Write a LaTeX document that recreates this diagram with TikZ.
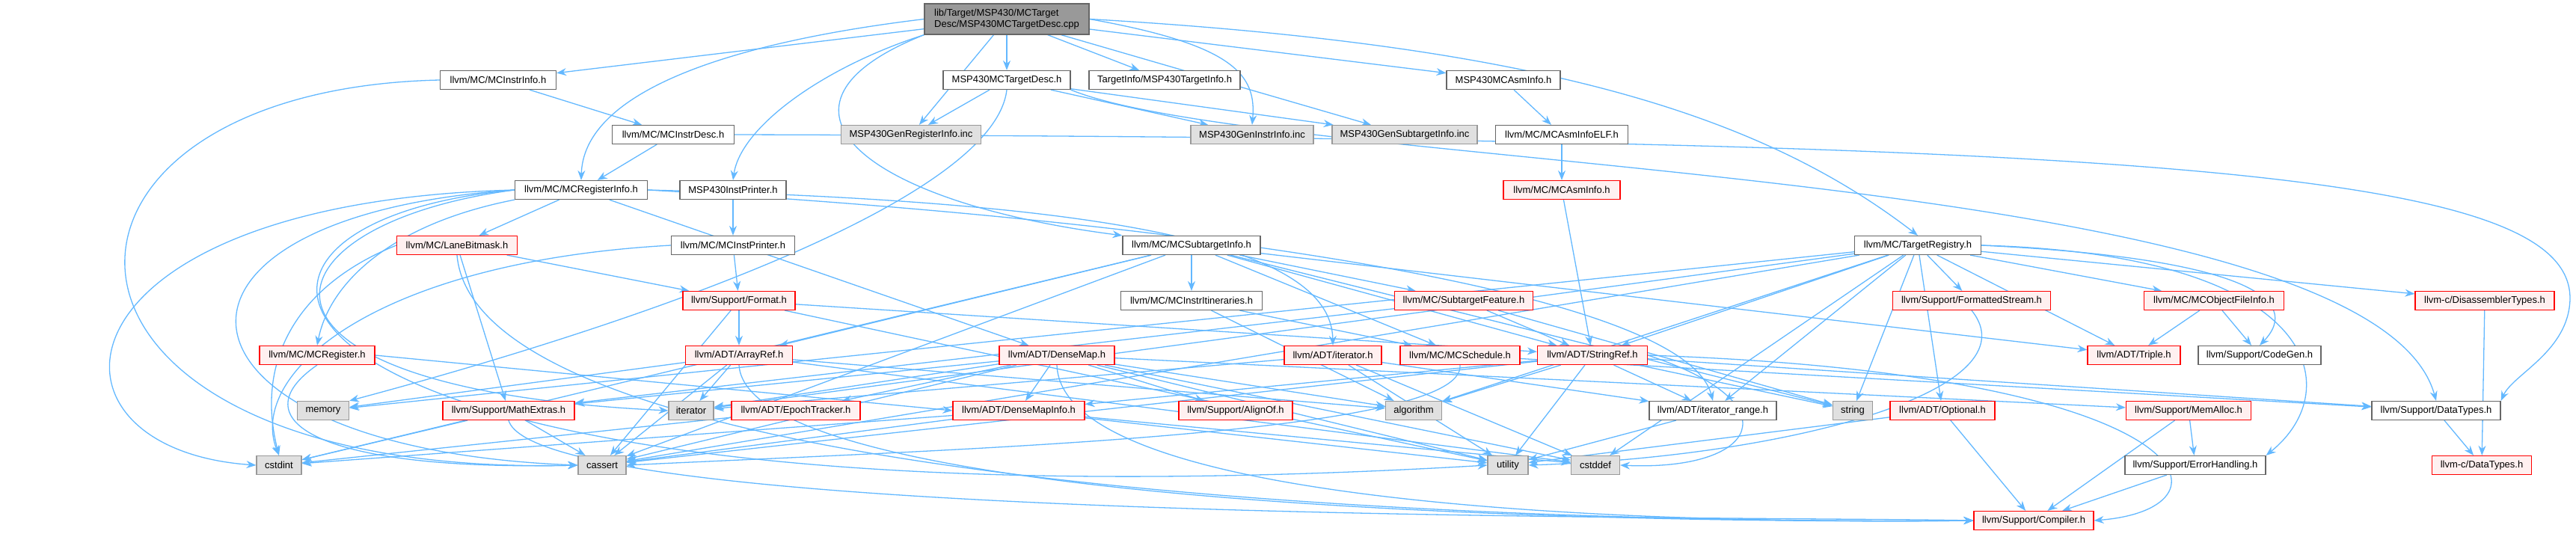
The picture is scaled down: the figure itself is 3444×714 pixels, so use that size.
\documentclass[tikz,border=0pt]{standalone}
\usepackage{fontspec}
\setmainfont{Liberation Sans}
\definecolor{depblue}{RGB}{99,184,255}
\definecolor{dgrey}{RGB}{102,102,102}
\definecolor{rootgrey}{RGB}{153,153,153}
\definecolor{sysfill}{RGB}{224,224,224}
\definecolor{sysline}{RGB}{153,153,153}
\definecolor{redfill}{RGB}{255,240,240}
\definecolor{redline}{RGB}{255,0,0}
\usepackage{tikz}
\usetikzlibrary{arrows.meta,positioning,backgrounds}

\begin{document}
\begin{tikzpicture}[x=1pt,y=-1pt,
  hbox/.style={draw=dgrey,fill=white,line width=1.2pt,minimum height=25pt,inner xsep=6pt,inner ysep=2pt,font=\fontsize{13}{15}\selectfont},
  hred/.style={hbox,draw=redline,fill=redfill},
  hsys/.style={hbox,draw=sysline,fill=sysfill},
  hroot/.style={hbox,fill=rootgrey,minimum height=41pt,align=left},
  dep/.style={draw=depblue,line width=1.3pt,-{Stealth[length=13pt,width=10pt]}}]
  \useasboundingbox (0,0) rectangle (3444,714);
  \node[hroot,minimum width=220pt] (cpp) at (1346,25.5) {lib/Target/MSP430/MCTarget\\Desc/MSP430MCTargetDesc.cpp};
  \node[hbox,minimum width=155pt] (instrinfo) at (666,107) {llvm/MC/MCInstrInfo.h};
  \node[hbox,minimum width=170pt] (tgtdesch) at (1346,107) {MSP430MCTargetDesc.h};
  \node[hbox,minimum width=202pt] (tinfo) at (1557,107) {TargetInfo/MSP430TargetInfo.h};
  \node[hbox,minimum width=152pt] (asminfo430) at (2010,107) {MSP430MCAsmInfo.h};
  \node[hbox,minimum width=163pt] (instrdesc) at (900,180) {llvm/MC/MCInstrDesc.h};
  \node[hsys,minimum width=187pt] (genreg) at (1218,180) {MSP430GenRegisterInfo.inc};
  \node[hsys,minimum width=164pt] (geninstr) at (1674,180) {MSP430GenInstrInfo.inc};
  \node[hsys,minimum width=194pt] (gensub) at (1878,180) {MSP430GenSubtargetInfo.inc};
  \node[hbox,minimum width=177pt] (asminfoelf) at (2088,180) {llvm/MC/MCAsmInfoELF.h};
  \node[hbox,minimum width=177pt] (reginfo) at (777,254) {llvm/MC/MCRegisterInfo.h};
  \node[hbox,minimum width=142pt] (instprinter430) at (980,254) {MSP430InstPrinter.h};
  \node[hred,minimum width=156pt] (asminfo) at (2088,254) {llvm/MC/MCAsmInfo.h};
  \node[hred,minimum width=161pt] (lanebitmask) at (611,328) {llvm/MC/LaneBitmask.h};
  \node[hbox,minimum width=165pt] (mcinstprinter) at (980,328) {llvm/MC/MCInstPrinter.h};
  \node[hbox,minimum width=184pt] (subtgtinfo) at (1593,328) {llvm/MC/MCSubtargetInfo.h};
  \node[hbox,minimum width=169pt] (tgtreg) at (2564,328) {llvm/MC/TargetRegistry.h};
  \node[hred,minimum width=150pt] (format) at (988,402) {llvm/Support/Format.h};
  \node[hbox,minimum width=189pt] (instrit) at (1593,402) {llvm/MC/MCInstrItineraries.h};
  \node[hred,minimum width=185pt] (subfeat) at (1957,402) {llvm/MC/SubtargetFeature.h};
  \node[hred,minimum width=211pt] (fmtstream) at (2636,402) {llvm/Support/FormattedStream.h};
  \node[hred,minimum width=187pt] (objfileinfo) at (2960,402) {llvm/MC/MCObjectFileInfo.h};
  \node[hred,minimum width=186pt] (disasm) at (3322,402) {llvm-c/DisassemblerTypes.h};
  \node[hred,minimum width=154pt] (mcregister) at (424,475) {llvm/MC/MCRegister.h};
  \node[hred,minimum width=143pt] (arrayref) at (988,475) {llvm/ADT/ArrayRef.h};
  \node[hred,minimum width=154pt] (densemap) at (1413,475) {llvm/ADT/DenseMap.h};
  \node[hred,minimum width=130pt] (iterh) at (1782,475) {llvm/ADT/iterator.h};
  \node[hred,minimum width=160pt] (mcschedule) at (1952,475) {llvm/MC/MCSchedule.h};
  \node[hred,minimum width=147pt] (stringref) at (2129,475) {llvm/ADT/StringRef.h};
  \node[hred,minimum width=124pt] (triple) at (2853,475) {llvm/ADT/Triple.h};
  \node[hbox,minimum width=164pt] (codegen) at (3021,475) {llvm/Support/CodeGen.h};
  \node[hsys,minimum width=69pt] (memory) at (432,549) {memory};
  \node[hred,minimum width=176pt] (mathextras) at (680,549) {llvm/Support/MathExtras.h};
  \node[hsys,minimum width=60pt] (iterator) at (924,549) {iterator};
  \node[hred,minimum width=172pt] (epoch) at (1064,549) {llvm/ADT/EpochTracker.h};
  \node[hred,minimum width=176pt] (densemapinfo) at (1362,549) {llvm/ADT/DenseMapInfo.h};
  \node[hred,minimum width=152pt] (alignof) at (1652,549) {llvm/Support/AlignOf.h};
  \node[hsys,minimum width=75pt] (algorithm) at (1890,549) {algorithm};
  \node[hbox,minimum width=170pt] (itrange) at (2290,549) {llvm/ADT/iterator\_range.h};
  \node[hsys,minimum width=53pt] (string) at (2477,549) {string};
  \node[hred,minimum width=140pt] (optional) at (2597,549) {llvm/ADT/Optional.h};
  \node[hred,minimum width=167pt] (memalloc) at (2926,549) {llvm/Support/MemAlloc.h};
  \node[hbox,minimum width=172pt] (datatypes) at (3257,549) {llvm/Support/DataTypes.h};
  \node[hsys,minimum width=60pt] (cstdint) at (373,622) {cstdint};
  \node[hsys,minimum width=64pt] (cassert) at (805,622) {cassert};
  \node[hsys,minimum width=54pt] (utility) at (2016,622) {utility};
  \node[hsys,minimum width=65pt] (cstddef) at (2133,622) {cstddef};
  \node[hbox,minimum width=188pt] (errhandling) at (2935,622) {llvm/Support/ErrorHandling.h};
  \node[hred,minimum width=133pt] (cdatatypes) at (3318,622) {llvm-c/DataTypes.h};
  \node[hred,minimum width=160pt] (compiler) at (2719,696) {llvm/Support/Compiler.h};
  \begin{scope}[on background layer]
  \draw[dep] (cpp) -- (instrinfo);
  \draw[dep] (cpp.west) .. controls (950,60) and (780,130) .. (reginfo.north);
  \draw[dep] (cpp.south west) .. controls (1100,90) and (990,170) .. (instprinter430.north);
  \draw[dep] (cpp.south west) .. controls (1000,140) and (1150,270) .. (subtgtinfo.north west);
  \draw[dep] (cpp) -- (genreg);
  \draw[dep] (cpp) -- (tgtdesch);
  \draw[dep] (cpp) -- (tinfo);
  \draw[dep] (cpp.east) .. controls (1650,60) and (1680,100) .. (geninstr.north);
  \draw[dep] (cpp) -- (gensub);
  \draw[dep] (cpp) -- (asminfo430);
  \draw[dep] (cpp.east) .. controls (2050,60) and (2350,150) .. (tgtreg.north);
  \draw[dep] (tgtdesch) -- (genreg);
  \draw[dep] (tgtdesch) -- (geninstr);
  \draw[dep] (tgtdesch) -- (gensub);
  \draw[dep] (tgtdesch.south) .. controls (1330,260) and (900,420) .. (memory.north east);
  \draw[dep] (tgtdesch.south east) .. controls (1700,230) and (3170,220) .. (datatypes.north);
  \draw[dep] (instrinfo) -- (instrdesc);
  \draw[dep] (instrinfo.west) .. controls (0,120) and (0,640) .. (cassert.west);
  \draw[dep] (instrdesc) -- (reginfo);
  \draw[dep] (instrdesc.east) .. controls (2900,185) and (3438,230) .. (3436,400) .. controls (3434,470) and (3360,500) .. (datatypes.north east);
  \draw[dep] (asminfo430) -- (asminfoelf);
  \draw[dep] (asminfoelf) -- (asminfo);
  \draw[dep] (asminfo) -- (stringref);
  \draw[dep] (instprinter430) -- (mcinstprinter);
  \draw[dep] (mcinstprinter) -- (format);
  \draw[dep] (mcinstprinter.west) .. controls (500,350) and (330,500) .. (cstdint.north);
  \draw[dep] (reginfo) -- (lanebitmask);
  \draw[dep] (reginfo.south west) .. controls (520,300) and (440,380) .. (mcregister.north);
  \draw[dep] (reginfo.west) .. controls (60,270) and (30,600) .. (cstdint.west);
  \draw[dep] (reginfo.west) .. controls (160,290) and (200,600) .. (cassert.west);
  \draw[dep] (reginfo.west) .. controls (340,300) and (280,520) .. (iterator.west);
  \draw[dep] (reginfo.west) .. controls (180,300) and (300,720) .. (utility.west);
  \draw[dep] (reginfo) -- (densemap);
  \draw[dep] (reginfo.east) .. controls (1500,270) and (1780,330) .. (iterh.north);
  \draw[dep] (reginfo.east) .. controls (1500,290) and (2250,380) .. (itrange.north);
  \draw[dep] (lanebitmask) -- (format);
  \draw[dep] (lanebitmask) -- (mathextras);
  \draw[dep] (lanebitmask.west) .. controls (400,380) and (340,480) .. (cstdint.north);
  \draw[dep] (lanebitmask.south) .. controls (640,680) and (2200,700) .. (compiler.west);
  \draw[dep] (mcregister.east) -- (densemapinfo.west);
  \draw[dep] (mcregister.south) .. controls (320,560) and (420,630) .. (cassert.west);
  \draw[dep] (mathextras) -- (cstdint);
  \draw[dep] (mathextras) -- (cassert);
  \draw[dep] (mathextras.south) .. controls (720,700) and (2300,690) .. (compiler.west);
  \draw[dep] (format) -- (arrayref);
  \draw[dep] (format) -- (stringref);
  \draw[dep] (format) -- (utility);
  \draw[dep] (format) -- (cassert);
  \draw[dep] (arrayref) -- (iterator);
  \draw[dep] (arrayref) -- (memory);
  \draw[dep] (arrayref) -- (cassert);
  \draw[dep] (arrayref) -- (algorithm);
  \draw[dep] (arrayref) -- (cstddef);
  \draw[dep] (arrayref.south) .. controls (1000,690) and (2300,700) .. (compiler.west);
  \draw[dep] (densemap) -- (epoch);
  \draw[dep] (densemap) -- (densemapinfo);
  \draw[dep] (densemap) -- (alignof);
  \draw[dep] (densemap) -- (iterator);
  \draw[dep] (densemap) -- (algorithm);
  \draw[dep] (densemap) -- (cassert);
  \draw[dep] (densemap) -- (utility);
  \draw[dep] (densemap) -- (cstddef);
  \draw[dep] (densemap) -- (memalloc);
  \draw[dep] (densemap) -- (mathextras);
  \draw[dep] (densemap.south) .. controls (1420,690) and (2300,700) .. (compiler.west);
  \draw[dep] (densemapinfo) -- (cassert);
  \draw[dep] (densemapinfo) -- (cstdint);
  \draw[dep] (densemapinfo) -- (utility);
  \draw[dep] (densemapinfo) -- (cstddef);
  \draw[dep] (epoch) -- (cstdint);
  \draw[dep] (subtgtinfo) -- (instrit);
  \draw[dep] (subtgtinfo) -- (arrayref);
  \draw[dep] (subtgtinfo) -- (mcschedule);
  \draw[dep] (subtgtinfo) -- (subfeat);
  \draw[dep] (subtgtinfo) -- (stringref);
  \draw[dep] (subtgtinfo) -- (triple);
  \draw[dep] (subtgtinfo) -- (string);
  \draw[dep] (subtgtinfo) -- (cassert);
  \draw[dep] (subtgtinfo) -- (cstdint);
  \draw[dep] (instrit) -- (mcschedule);
  \draw[dep] (instrit) -- (algorithm);
  \draw[dep] (mcschedule.south) .. controls (1960,580) and (1300,600) .. (cassert.east);
  \draw[dep] (mcschedule) -- (datatypes);
  \draw[dep] (subfeat) -- (stringref);
  \draw[dep] (subfeat) -- (string);
  \draw[dep] (subfeat) -- (mathextras);
  \draw[dep] (iterh) -- (itrange);
  \draw[dep] (iterh) -- (utility);
  \draw[dep] (iterh) -- (cstddef);
  \draw[dep] (iterh) -- (iterator);
  \draw[dep] (stringref) -- (algorithm);
  \draw[dep] (stringref) -- (utility);
  \draw[dep] (stringref) -- (itrange);
  \draw[dep] (stringref) -- (string);
  \draw[dep] (stringref) -- (densemapinfo);
  \draw[dep] (stringref.east) .. controls (2400,540) and (2350,630) .. (cstddef.east);
  \draw[dep] (stringref) -- (cassert);
  \draw[dep] (stringref.east) .. controls (2950,500) and (3000,680) .. (compiler.east);
  \draw[dep] (stringref) -- (datatypes);
  \draw[dep] (itrange) -- (utility);
  \draw[dep] (tgtreg) -- (fmtstream);
  \draw[dep] (tgtreg) -- (objfileinfo);
  \draw[dep] (tgtreg) -- (triple);
  \draw[dep] (tgtreg.east) .. controls (3000,345) and (3080,400) .. (codegen.north);
  \draw[dep] (tgtreg) -- (disasm);
  \draw[dep] (tgtreg.east) .. controls (3100,340) and (3140,520) .. (errhandling.north east);
  \draw[dep] (tgtreg) -- (stringref);
  \draw[dep] (tgtreg) -- (itrange);
  \draw[dep] (tgtreg) -- (optional);
  \draw[dep] (tgtreg) -- (string);
  \draw[dep] (tgtreg) -- (algorithm);
  \draw[dep] (tgtreg) -- (cassert);
  \draw[dep] (tgtreg) -- (cstddef);
  \draw[dep] (tgtreg) -- (iterator);
  \draw[dep] (tgtreg) -- (memory);
  \draw[dep] (fmtstream.south) .. controls (2720,520) and (2400,610) .. (utility.east);
  \draw[dep] (objfileinfo) -- (triple);
  \draw[dep] (objfileinfo) -- (codegen);
  \draw[dep] (disasm) -- (cdatatypes);
  \draw[dep] (datatypes) -- (cdatatypes);
  \draw[dep] (memalloc) -- (errhandling);
  \draw[dep] (memalloc) -- (compiler);
  \draw[dep] (errhandling) -- (compiler);
  \draw[dep] (optional) -- (compiler);
  \draw[dep] (optional) -- (utility);
  \end{scope}
\end{tikzpicture}
\end{document}
